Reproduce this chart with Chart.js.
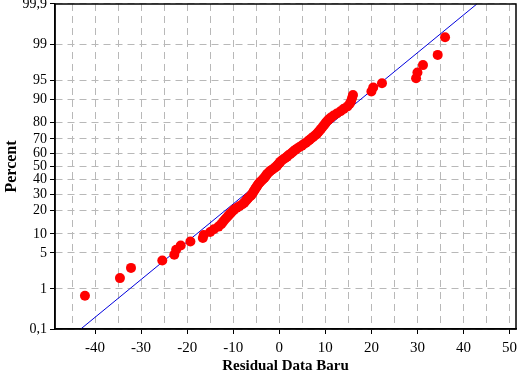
<!DOCTYPE html>
<html>
<head>
<meta charset="utf-8">
<script src="https://cdn.jsdelivr.net/npm/chart.js@4/dist/chart.umd.min.js"></script>
<style>
  body { margin:0; background:#fff; }
  #wrap { width:517px; height:374px; }
</style>
</head>
<body>
<div id="wrap"><canvas id="probChart" width="517" height="374"></canvas></div>
<script>
// residuals, sorted
var residual = [-42.2,-34.6,-32.2,-25.4,-22.8,-22.4,-21.4,-19.3,-16.6,-16.4,
  -15.0,-14.2,-13.2,-12.6,-12.2,-11.8,-11.4,-11.0,-10.6,-10.2,
  -9.8,-9.2,-8.6,-8.0,-7.6,-7.3,-7.0,-6.7,-6.3,-6.0,
  -5.8,-5.6,-5.4,-5.2,-5.0,-4.8,-4.6,-4.4,-4.1,-3.8,
  -3.5,-3.2,-3.0,-2.8,-2.6,-2.3,-2.0,-1.6,-1.2,-0.8,
  -0.5,-0.3,0.0,0.2,0.5,0.9,1.3,1.7,2.0,2.4,
  2.8,3.1,3.5,3.9,4.4,4.9,5.3,5.8,6.2,6.6,
  7.0,7.4,7.8,8.2,8.5,8.8,9.1,9.4,9.7,10.0,
  10.3,10.7,11.2,11.8,12.5,13.3,14.0,14.8,15.3,15.6,
  15.8,16.0,20.0,20.4,22.3,29.7,30.0,31.2,34.4,36.0];

// percent for each residual
var percent = [0.70,1.69,2.69,3.69,4.68,5.68,6.67,7.67,8.67,9.66,
  10.66,11.65,12.65,13.65,14.64,15.64,16.63,17.63,18.63,19.62,
  20.62,21.61,22.61,23.61,24.60,25.60,26.59,27.59,28.59,29.58,
  30.58,31.57,32.57,33.57,34.56,35.56,36.55,37.55,38.55,39.54,
  40.54,41.53,42.53,43.53,44.52,45.52,46.51,47.51,48.51,49.50,
  50.50,51.49,52.49,53.49,54.48,55.48,56.47,57.47,58.47,59.46,
  60.46,61.45,62.45,63.45,64.44,65.44,66.43,67.43,68.43,69.42,
  70.42,71.41,72.41,73.41,74.40,75.40,76.39,77.39,78.39,79.38,
  80.38,81.37,82.37,83.37,84.36,85.36,86.35,87.35,88.35,89.34,
  90.34,91.33,92.33,93.33,94.32,95.32,96.31,97.31,98.31,99.30];

// fitted line ends
var fitX = [-43.1, 42.9];
var fitP = [0.1, 99.9];

var yTicks = [0.1,1,5,10,20,30,40,50,60,70,80,90,95,99,99.9];
var xTicks = [-45,-40,-35,-30,-25,-20,-15,-10,-5,0,5,10,15,20,25,30,35,40,45,50];

// inverse normal cdf (Acklam)
function probit(p){
  var a=[-3.969683028665376e+01,2.209460984245205e+02,-2.759285104469687e+02,1.383577518672690e+02,-3.066479806614716e+01,2.506628277459239e+00];
  var b=[-5.447609879822406e+01,1.615858368580409e+02,-1.556989798598866e+02,6.680131188771972e+01,-1.328068155288572e+01];
  var c=[-7.784894002430293e-03,-3.223964580411365e-01,-2.400758277161838e+00,-2.549732539343734e+00,4.374664141464968e+00,2.938163982698783e+00];
  var d=[7.784695709041462e-03,3.224671290700398e-01,2.445134137142996e+00,3.754408661907416e+00];
  var pl=0.02425, q, r;
  if(p<pl){
    q=Math.sqrt(-2*Math.log(p));
    return (((((c[0]*q+c[1])*q+c[2])*q+c[3])*q+c[4])*q+c[5])/((((d[0]*q+d[1])*q+d[2])*q+d[3])*q+1);
  }
  if(p>1-pl){
    q=Math.sqrt(-2*Math.log(1-p));
    return -(((((c[0]*q+c[1])*q+c[2])*q+c[3])*q+c[4])*q+c[5])/((((d[0]*q+d[1])*q+d[2])*q+d[3])*q+1);
  }
  q=p-0.5; r=q*q;
  return (((((a[0]*r+a[1])*r+a[2])*r+a[3])*r+a[4])*r+a[5])*q/(((((b[0]*r+b[1])*r+b[2])*r+b[3])*r+b[4])*r+1);
}

var pts = residual.map(function(v,i){ return {x:v, y:probit(percent[i]/100)}; });
var fitPts = fitX.map(function(v,i){ return {x:v, y:probit(fitP[i]/100)}; });

var boxPlugin = {
  id:'box',
  afterDraw:function(chart){
    var a = chart.chartArea, ctx = chart.ctx;
    ctx.save();
    ctx.strokeStyle = '#000';
    ctx.lineWidth = 1.5;
    ctx.strokeRect(a.left, a.top, a.right-a.left, a.bottom-a.top);
    ctx.restore();
  }
};

var serif = "'Liberation Serif','DejaVu Serif',serif";

new Chart(document.getElementById('probChart'), {
  type:'scatter',
  data:{
    datasets:[
      {data:pts, pointRadius:5, pointHoverRadius:5, backgroundColor:'#f00', borderWidth:0},
      {data:fitPts, showLine:true, pointRadius:0, borderColor:'#0000dd', borderWidth:1, fill:false}
    ]
  },
  options:{
    responsive:false,
    animation:false,
    devicePixelRatio:1,
    layout:{autoPadding:false, padding:{top:4, right:1, left:0, bottom:0}},
    plugins:{legend:{display:false}, tooltip:{enabled:false}},
    scales:{
      x:{
        type:'linear', min:-48.7, max:51.4,
        afterBuildTicks:function(s){ s.ticks = xTicks.map(function(v){return {value:v};}); },
        afterFit:function(s){ s.height = 45; s.paddingLeft = 0; s.paddingRight = 0; },
        border:{display:true, color:'#000', width:1.5, dash:[7,5]},
        grid:{color:'#b8b8b8', lineWidth:1, tickLength:5,
          tickColor:function(c){ return (c.tick && c.tick.value % 10 === 0) ? '#000' : 'rgba(0,0,0,0)'; }},
        ticks:{color:'#000', padding:5, maxRotation:0, autoSkip:false,
          font:{family:serif, size:15},
          callback:function(v){ return v % 10 === 0 ? String(v) : ''; }},
        title:{display:true, text:'Residual Data Baru', color:'#000',
          font:{family:serif, size:15, weight:'bold', lineHeight:1}, padding:{top:0,bottom:0}}
      },
      y:{
        type:'linear', min:probit(0.001), max:probit(0.999),
        afterBuildTicks:function(s){ s.ticks = yTicks.map(function(v){return {value:probit(v/100)};}); },
        afterFit:function(s){ s.width = 55; s.paddingTop = 0; s.paddingBottom = 0; },
        border:{display:true, color:'#000', width:1.5, dash:[7,5]},
        grid:{color:'#b8b8b8', lineWidth:1, tickLength:5, tickColor:'#000'},
        ticks:{color:'#000', padding:3, autoSkip:false,
          font:{family:serif, size:14},
          callback:function(v, i){ return String(yTicks[i]).replace('.', ','); }},
        title:{display:true, text:'Percent', color:'#000',
          font:{family:serif, size:16, weight:'bold', lineHeight:1}, padding:{top:4,bottom:0}}
      }
    }
  },
  plugins:[boxPlugin]
});
</script>
</body>
</html>
